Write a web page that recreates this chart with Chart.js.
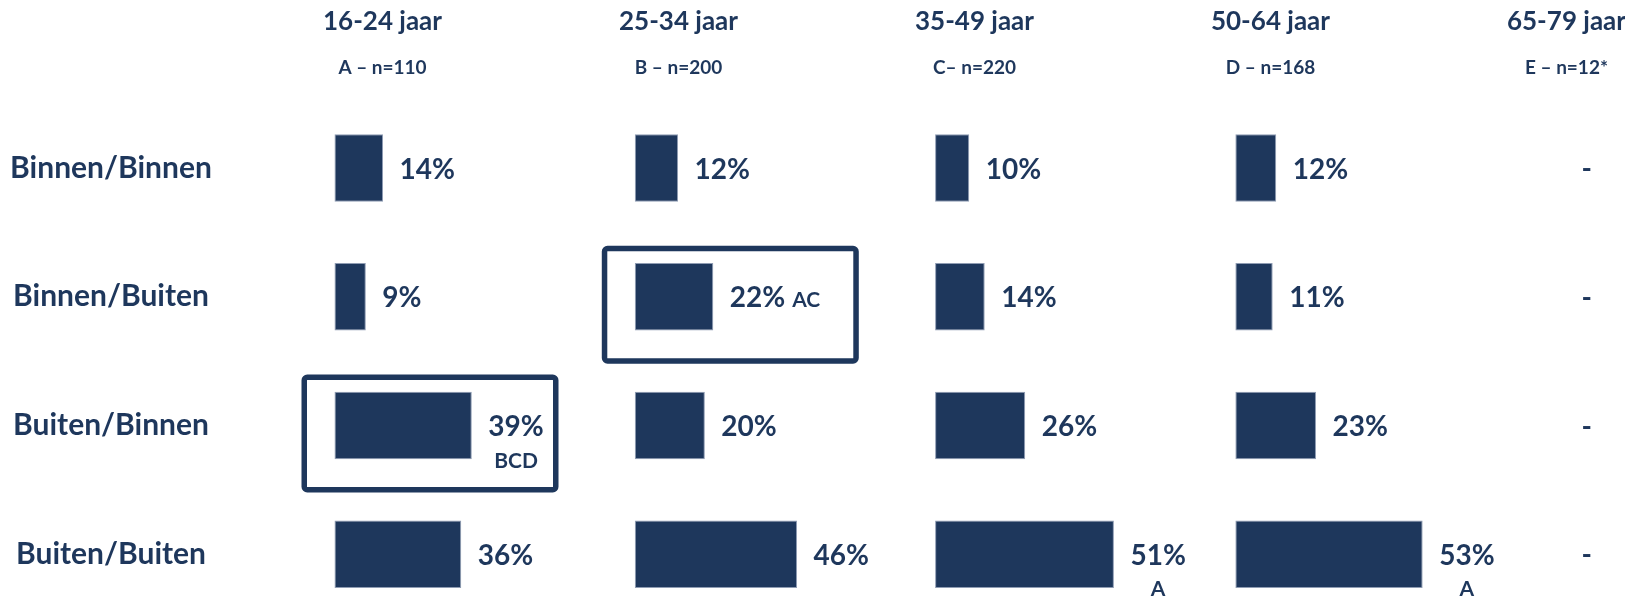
<!DOCTYPE html>
<html lang="nl">
  <head>
    <meta charset="utf-8" />
    <style>
      html, body { margin: 0; padding: 0; background: #ffffff; }
      canvas { display: block; }
    </style>
  </head>
  <body>
    <canvas id="myChart" width="1625" height="598"></canvas>

    <script src="https://cdn.jsdelivr.net/npm/chart.js@4.4.1/dist/chart.umd.min.js"></script>
    <script>
      // rows and age groups
      const rows = ["Binnen/Binnen", "Binnen/Buiten", "Buiten/Binnen", "Buiten/Buiten"];
      const groups = ["16-24 jaar", "25-34 jaar", "35-49 jaar", "50-64 jaar", "65-79 jaar"];
      const groupNotes = ["A – n=110", "B – n=200", "C– n=220", "D – n=168", "E – n=12*"];

      // share per row (%)
      const age16_24 = [13.8, 8.9, 39.0, 36.0];
      const age25_34 = [12.3, 22.3, 19.9, 46.1];
      const age35_49 = [9.7, 14.1, 25.6, 50.8];
      const age50_64 = [11.6, 10.6, 22.9, 53.2];
      const age65_79 = [null, null, null, null]; // n too small, shown as "-"

      // significantly higher than group(s)
      const sig16_24 = ["", "", "BCD", ""];
      const sig25_34 = ["", "AC", "", ""];
      const sig35_49 = ["", "", "", "A"];
      const sig50_64 = ["", "", "", "A"];
      const sig65_79 = ["", "", "", ""];

      // highlighted cells as [group, row]
      const boxed = [[0, 2], [1, 1]];

      const columns = [age16_24, age25_34, age35_49, age50_64, age65_79];
      const sigs = [sig16_24, sig25_34, sig35_49, sig50_64, sig65_79];

      const navy = "#1e375c";
      const family = "Lato, 'Liberation Sans', sans-serif";
      const rowFont = { family: family, size: 30, weight: "bold" };
      const scaleMax = 85.3;     // % per column width
      const lastWeight = 0.2975; // last column is cut off at the right edge
      const inlineSig = [[1, 1]];

      const mctx = document.createElement("canvas").getContext("2d");
      mctx.font = `bold ${rowFont.size}px ${family}`;
      const widest = Math.max(...rows.map((r) => mctx.measureText(r).width));
      const labelLeft = 334.5;
      const rowPad = labelLeft - 111 - widest / 2;

      const cellText = {
        id: "cellText",
        afterDatasetsDraw(chart) {
          const ctx = chart.ctx;
          const yScale = chart.scales.y;
          ctx.save();
          ctx.fillStyle = navy;
          ctx.textBaseline = "alphabetic";
          chart.data.datasets.forEach((ds, i) => {
            const sc = chart.scales[ds.xAxisID];
            const hx = sc.left + 48 - 4.3 * i;
            ctx.textAlign = "center";
            ctx.font = `bold 26px ${family}`;
            ctx.fillText(groups[i], hx, 29.5);
            ctx.font = `bold 19px ${family}`;
            ctx.fillText(groupNotes[i], hx, 74);

            const meta = chart.getDatasetMeta(i);
            ds.data.forEach((v, r) => {
              const cy = yScale.getPixelForValue(r);
              ctx.font = `bold 28px ${family}`;
              if (v == null) {
                ctx.textAlign = "center";
                ctx.fillText("-", sc.getPixelForValue(0) + 51, cy + 10);
                return;
              }
              const bar = meta.data[r];
              const txt = Math.round(v) + "%";
              const tx = bar.x + 16.5;
              ctx.textAlign = "left";
              ctx.fillText(txt, tx, cy + 10.5);
              const w = ctx.measureText(txt).width;
              const sig = ds.sig[r];
              if (sig) {
                ctx.font = `bold 21px ${family}`;
                const inline = inlineSig.some(([g, rr]) => g === i && rr === r);
                if (inline) {
                  ctx.fillText(sig, tx + w + 7, cy + 10.5);
                } else {
                  ctx.textAlign = "center";
                  ctx.fillText(sig, tx + w / 2, cy + 42);
                }
              }
            });
          });

          const lw = 5.5;
          ctx.strokeStyle = navy;
          ctx.lineWidth = lw;
          boxed.forEach(([g, r]) => {
            const sc = chart.scales["x" + g];
            const cy = yScale.getPixelForValue(r);
            ctx.beginPath();
            ctx.roundRect(sc.left - 33 + lw / 2, cy - 51 + lw / 2, 257 - lw, 118 - lw, 3);
            ctx.stroke();
          });
          ctx.restore();
        },
      };

      const scales = {
        y: {
          type: "category",
          offset: false,
          grid: { display: false, drawTicks: false },
          border: { display: false },
          ticks: {
            color: navy,
            font: rowFont,
            crossAlign: "center",
            padding: rowPad,
            autoSkip: false,
          },
          afterFit(scale) {
            // the tick padding is only meant to shift the labels sideways
            scale.width = labelLeft;
            scale.paddingTop = 0;
            scale.paddingBottom = 0;
          },
        },
      };
      columns.forEach((col, i) => {
        scales["x" + i] = {
          type: "linear",
          position: "bottom",
          stack: "groups",
          stackWeight: i < 4 ? 1 : lastWeight,
          min: 0,
          max: i < 4 ? scaleMax : scaleMax * lastWeight,
          display: false,
        };
      });

      const ctx = document.getElementById("myChart");
      new Chart(ctx, {
        type: "bar",
        data: {
          labels: rows,
          datasets: columns.map((col, i) => ({
            label: groups[i],
            data: col,
            sig: sigs[i],
            xAxisID: "x" + i,
            yAxisID: "y",
            backgroundColor: navy,
            borderColor: "#8f9cb3",
            borderWidth: 1,
            borderSkipped: false,
            grouped: false,
            clip: false,
            categoryPercentage: 1,
            barPercentage: 0.525,
          })),
        },
        options: {
          indexAxis: "y",
          responsive: false,
          devicePixelRatio: 1,
          animation: false,
          layout: { padding: { top: 168, bottom: 43.7, left: 0, right: 0 } },
          scales: scales,
          plugins: {
            legend: { display: false },
            tooltip: { enabled: false },
          },
        },
        plugins: [cellText],
      });
    </script>
  </body>
</html>
